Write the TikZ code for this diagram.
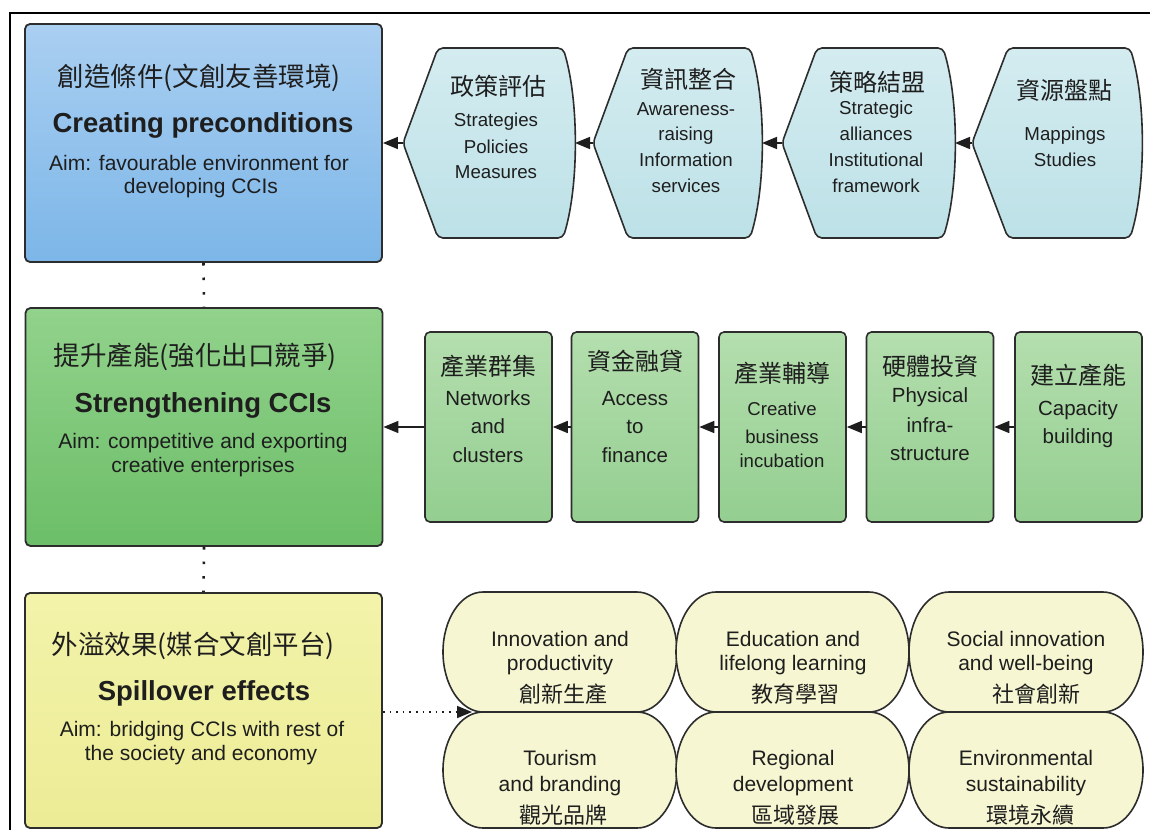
\documentclass[tikz,border=0pt]{standalone}
\usepackage{fontspec}
\setmainfont{Liberation Sans}
\newfontfamily\cjk{Noto Sans CJK TC}
\usetikzlibrary{arrows.meta}
\definecolor{ink}{RGB}{30,30,30}
\definecolor{edge}{RGB}{45,45,45}
\definecolor{blueTop}{RGB}{170,207,241}
\definecolor{blueBot}{RGB}{124,182,232}
\definecolor{greenTop}{RGB}{146,210,140}
\definecolor{greenBot}{RGB}{108,190,104}
\definecolor{yellowTop}{RGB}{243,243,170}
\definecolor{yellowBot}{RGB}{236,236,150}
\definecolor{hexTop}{RGB}{212,236,240}
\definecolor{hexBot}{RGB}{188,225,231}
\definecolor{gsTop}{RGB}{180,222,174}
\definecolor{gsBot}{RGB}{148,206,144}
\definecolor{pillFill}{RGB}{246,246,210}
\begin{document}
\begin{tikzpicture}[x=1pt,y=-1pt,
  bigbox/.style={draw=edge, line width=1.8pt, rounded corners=5pt, minimum width=357pt, inner sep=0pt},
  smallbox/.style={draw=edge, line width=1.6pt, rounded corners=5pt, minimum width=127pt, minimum height=190pt, inner sep=0pt, top color=gsTop, bottom color=gsBot},
  hexshape/.style={draw=edge, line width=1.6pt, rounded corners=5pt, top color=hexTop, bottom color=hexBot},
  pillshape/.style={draw=edge, line width=1.6pt, fill=pillFill},
  txt/.style={anchor=base, inner sep=0pt, text=ink},
  bigcjk/.style={txt, font=\cjk\fontsize{26.5}{30}\selectfont},
  bigbold/.style={txt, font=\bfseries\fontsize{27.5}{30}\selectfont},
  aimtxt/.style={txt, font=\fontsize{21}{24}\selectfont},
  hexcjk/.style={txt, font=\cjk\fontsize{24}{28}\selectfont},
  hextxt/.style={txt, font=\fontsize{18.7}{22}\selectfont},
  gscjk/.style={txt, font=\cjk\fontsize{24}{28}\selectfont},
  gstxt/.style={txt, font=\fontsize{20.5}{24}\selectfont},
  gstxtsmall/.style={txt, font=\fontsize{18.6}{22}\selectfont},
  pilltxt/.style={txt, font=\fontsize{21}{24}\selectfont},
  pillcjk/.style={txt, font=\cjk\fontsize{22}{26}\selectfont},
  arr/.style={-{Triangle[length=15pt,width=12pt]}, line width=1.6pt, draw=ink},
  dotv/.style={line width=2.6pt, draw=ink, dash pattern=on 2.6pt off 12pt},
  doth/.style={line width=1.6pt, draw=ink, dash pattern=on 1.6pt off 5pt, -{Triangle[length=15pt,width=12pt]}}
]
\useasboundingbox (0,0) rectangle (1150,830);
\fill[white] (0,0) rectangle (1150,830);
% frame
\draw[line width=1.6pt, black] (1150,13) -- (10,13) -- (10,830);

% ---------- big boxes ----------
\node[bigbox, minimum height=238pt, top color=blueTop, bottom color=blueBot] (blue) at (203.5,143) {};
\node[bigbox, minimum height=238pt, top color=greenTop, bottom color=greenBot] (green) at (204,427) {};
\node[bigbox, minimum height=235pt, top color=yellowTop, bottom color=yellowBot] (yellow) at (203.5,710.5) {};

\draw[dotv] (blue.south) -- (green.north);
\draw[dotv] (green.south) -- (yellow.north);

% blue text
\node[bigcjk] (bT) at (199,86) {創造條件(文創友善環境)};
\node[bigbold] (bB) at (203,132) {Creating preconditions};
\node[aimtxt] (bA1) at (199,170) {Aim: favourable environment for};
\node[aimtxt] (bA2) at (201,193) {developing CCIs};
% green text
\node[bigcjk] (gT) at (195,365) {提升產能(強化出口競爭)};
\node[bigbold] (gB) at (203,412) {Strengthening CCIs};
\node[aimtxt] (gA1) at (203,448) {Aim: competitive and exporting};
\node[aimtxt] (gA2) at (203,472) {creative enterprises};
% yellow text
\node[bigcjk] (yT) at (193,654) {外溢效果(媒合文創平台)};
\node[bigbold] (yB) at (204,700) {Spillover effects};
\node[aimtxt] (yA1) at (202,736) {Aim: bridging CCIs with rest of};
\node[aimtxt] (yA2) at (201,760) {the society and economy};

% ---------- hexagons ----------
\draw[hexshape] (403,143) -- (438,48) -- (563,48) .. controls (579,100) and (579,186) .. (563,238) -- (438,238) -- cycle;
\draw[hexshape] (593,143) -- (628,48) -- (750,48) .. controls (766,100) and (766,186) .. (750,238) -- (628,238) -- cycle;
\draw[hexshape] (782,143) -- (817,48) -- (943,48) .. controls (959,100) and (959,186) .. (943,238) -- (817,238) -- cycle;
\draw[hexshape] (972,143) -- (1008,48) -- (1130,48) .. controls (1146,100) and (1146,186) .. (1130,238) -- (1008,238) -- cycle;
\coordinate (h1L) at (403,143); \coordinate (h1R) at (575,143);
\coordinate (h2L) at (593,143); \coordinate (h2R) at (762,143);
\coordinate (h3L) at (782,143); \coordinate (h3R) at (955,143);
\coordinate (h4L) at (972,143);

\draw[arr] (h1L) -- (blue.east);
\draw[arr] (h2L) -- (h1R);
\draw[arr] (h3L) -- (h2R);
\draw[arr] (h4L) -- (h3R);

\node[hexcjk] (h1t) at (498,95) {政策評估};
\node[hextxt] (h1a) at (496,126) {Strategies};
\node[hextxt] (h1b) at (496,153) {Policies};
\node[hextxt] (h1c) at (496,178) {Measures};

\node[hexcjk] (h2t) at (688,88) {資訊整合};
\node[hextxt] (h2a) at (686,115) {Awareness-};
\node[hextxt] (h2b) at (686,140) {raising};
\node[hextxt] (h2c) at (686,166) {Information};
\node[hextxt] (h2d) at (686,192) {services};

\node[hexcjk] (h3t) at (877,91) {策略結盟};
\node[hextxt] (h3a) at (876,114) {Strategic};
\node[hextxt] (h3b) at (876,140) {alliances};
\node[hextxt] (h3c) at (876,166) {Institutional};
\node[hextxt] (h3d) at (876,192) {framework};

\node[hexcjk] (h4t) at (1064,99) {資源盤點};
\node[hextxt] (h4a) at (1065,140) {Mappings};
\node[hextxt] (h4b) at (1065,166) {Studies};

% ---------- small green boxes ----------
\node[smallbox] (g1) at (488.5,427) {};
\node[smallbox] (g2) at (635,427) {};
\node[smallbox] (g3) at (782.5,427) {};
\node[smallbox] (g4) at (930,427) {};
\node[smallbox] (g5) at (1078.5,427) {};
\draw[arr] (g1.west) -- (green.east);
\draw[arr] (g2.west) -- (g1.east);
\draw[arr] (g3.west) -- (g2.east);
\draw[arr] (g4.west) -- (g3.east);
\draw[arr] (g5.west) -- (g4.east);

\node[gscjk] (g1t) at (488,375) {產業群集};
\node[gstxt] (g1a) at (488,405) {Networks};
\node[gstxt] (g1b) at (488,433) {and};
\node[gstxt] (g1c) at (488,462) {clusters};

\node[gscjk] (g2t) at (635,370) {資金融貸};
\node[gstxt] (g2a) at (635,405) {Access};
\node[gstxt] (g2b) at (635,433) {to};
\node[gstxt] (g2c) at (635,462) {finance};

\node[gscjk] (g3t) at (782,382) {產業輔導};
\node[gstxtsmall] (g3a) at (782,415) {Creative};
\node[gstxtsmall] (g3b) at (782,443) {business};
\node[gstxtsmall] (g3c) at (782,467) {incubation};

\node[gscjk] (g4t) at (930,375) {硬體投資};
\node[gstxt] (g4a) at (930,402) {Physical};
\node[gstxt] (g4b) at (930,432) {infra-};
\node[gstxt] (g4c) at (930,460) {structure};

\node[gscjk] (g5t) at (1078,384) {建立產能};
\node[gstxt] (g5a) at (1078,415) {Capacity};
\node[gstxt] (g5b) at (1078,443) {building};

% ---------- pills ----------
\draw[pillshape] (483,592) arc[start angle=90,end angle=270,x radius=40pt,y radius=60pt] -- (637,712) arc[start angle=-90,end angle=90,x radius=40pt,y radius=60pt] -- cycle;
\draw[pillshape] (716,592) arc[start angle=90,end angle=270,x radius=40pt,y radius=60pt] -- (869,712) arc[start angle=-90,end angle=90,x radius=40pt,y radius=60pt] -- cycle;
\draw[pillshape] (949,592) arc[start angle=90,end angle=270,x radius=40pt,y radius=60pt] -- (1103,712) arc[start angle=-90,end angle=90,x radius=40pt,y radius=60pt] -- cycle;
\draw[pillshape] (483,712) arc[start angle=90,end angle=270,x radius=40pt,y radius=58pt] -- (637,828) arc[start angle=-90,end angle=90,x radius=40pt,y radius=58pt] -- cycle;
\draw[pillshape] (716,712) arc[start angle=90,end angle=270,x radius=40pt,y radius=58pt] -- (869,828) arc[start angle=-90,end angle=90,x radius=40pt,y radius=58pt] -- cycle;
\draw[pillshape] (949,712) arc[start angle=90,end angle=270,x radius=40pt,y radius=58pt] -- (1103,828) arc[start angle=-90,end angle=90,x radius=40pt,y radius=58pt] -- cycle;

\coordinate (pj) at (472,712);
\draw[doth] (yellow.east |- pj) -- (pj);

\node[pilltxt] (p1a) at (560,646) {Innovation and};
\node[pilltxt] (p1b) at (560,670) {productivity};
\node[pillcjk] (p1c) at (563,702) {創新生產};

\node[pilltxt] (p2a) at (793,646) {Education and};
\node[pilltxt] (p2b) at (793,670) {lifelong learning};
\node[pillcjk] (p2c) at (795,702) {教育學習};

\node[pilltxt] (p3a) at (1026,646) {Social innovation};
\node[pilltxt] (p3b) at (1026,670) {and well-being};
\node[pillcjk] (p3c) at (1036,702) {社會創新};

\node[pilltxt] (p4a) at (560,765) {Tourism};
\node[pilltxt] (p4b) at (560,791) {and branding};
\node[pillcjk] (p4c) at (563,823) {觀光品牌};

\node[pilltxt] (p5a) at (793,765) {Regional};
\node[pilltxt] (p5b) at (793,791) {development};
\node[pillcjk] (p5c) at (795,823) {區域發展};

\node[pilltxt] (p6a) at (1026,765) {Environmental};
\node[pilltxt] (p6b) at (1026,791) {sustainability};
\node[pillcjk] (p6c) at (1030,823) {環境永續};
\end{tikzpicture}
\end{document}
